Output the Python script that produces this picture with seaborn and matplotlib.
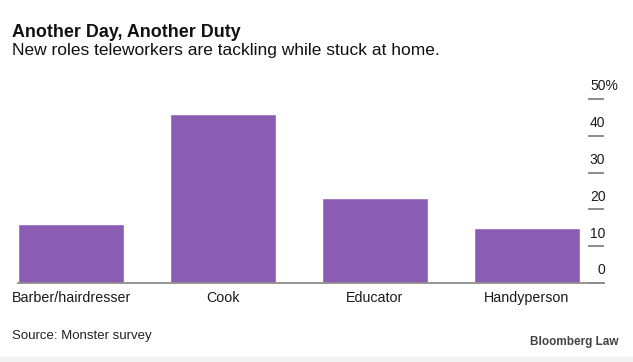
import seaborn as sns
import matplotlib.pyplot as plt
import matplotlib.transforms as mtransforms
from matplotlib.patches import Rectangle

# data
roles = ['Barber/hairdresser', 'Cook', 'Educator', 'Handyperson']
share = [16, 46, 23, 15]
y_ticks = [0, 10, 20, 30, 40, 50]

sns.set_theme(style='white')
plt.rcParams['font.family'] = ['Liberation Sans', 'DejaVu Sans']

fig = plt.figure(figsize=(6.33, 3.62), dpi=100)
ax = fig.add_axes([18 / 633, 1 - 283 / 362, (604 - 18) / 633, (283 - 99) / 362])

sns.barplot(x=roles, y=share, color='#8a5db3', saturation=1, width=0.7, ax=ax)

ax.set_xlim(-0.35, 3.507)
ax.set_ylim(0, 50)
for s in ['top', 'left', 'right']:
    ax.spines[s].set_visible(False)
ax.spines['bottom'].set_color('#8c8c8c')
ax.spines['bottom'].set_linewidth(1.3)

# right-side tick marks, labels drawn above them
ax.yaxis.tick_right()
ax.set_yticks(y_ticks)
ax.set_yticklabels([])
ax.tick_params(axis='y', direction='in', length=11.5, width=1.1, color='#6e6e6e', right=True, left=False)
ax.tick_params(axis='x', length=0, pad=6, labelsize=10.3, labelcolor='#1a1a1a')

trans = mtransforms.blended_transform_factory(ax.transAxes, ax.transData)
for t in y_ticks:
    if t == y_ticks[-1]:
        # top label carries the unit; keep the digits aligned with the others
        ax.annotate(f'{t}%', xy=(1.0, t), xycoords=trans, xytext=(-10.1, 4), textcoords='offset points',
                    ha='left', va='bottom', fontsize=10, color='#1a1a1a')
    else:
        ax.annotate(str(t), xy=(1.0, t), xycoords=trans, xytext=(1, 4), textcoords='offset points',
                    ha='right', va='bottom', fontsize=10, color='#1a1a1a')

ax.set_xlabel('')
ax.set_ylabel('')

fig.text(12 / 633, 1 - 37 / 362, 'Another Day, Another Duty', fontsize=12.9, fontweight='bold',
         color='#111111', ha='left', va='baseline')
fig.text(12 / 633, 1 - 55 / 362, 'New roles teleworkers are tackling while stuck at home.', fontsize=12.5,
         color='#111111', ha='left', va='baseline')
fig.text(12 / 633, 1 - 339 / 362, 'Source: Monster survey', fontsize=9.5, color='#222222',
         ha='left', va='baseline')
fig.text(618 / 633, 1 - 345 / 362, 'Bloomberg Law', fontsize=8.5, fontweight='bold', color='#444444',
         ha='right', va='baseline')

# light strip at the bottom
fig.patches.append(Rectangle((0, 0), 1, 5 / 362, transform=fig.transFigure, color='#f2f2f2', zorder=0))

fig.savefig('out.png', dpi=100, facecolor='white')
